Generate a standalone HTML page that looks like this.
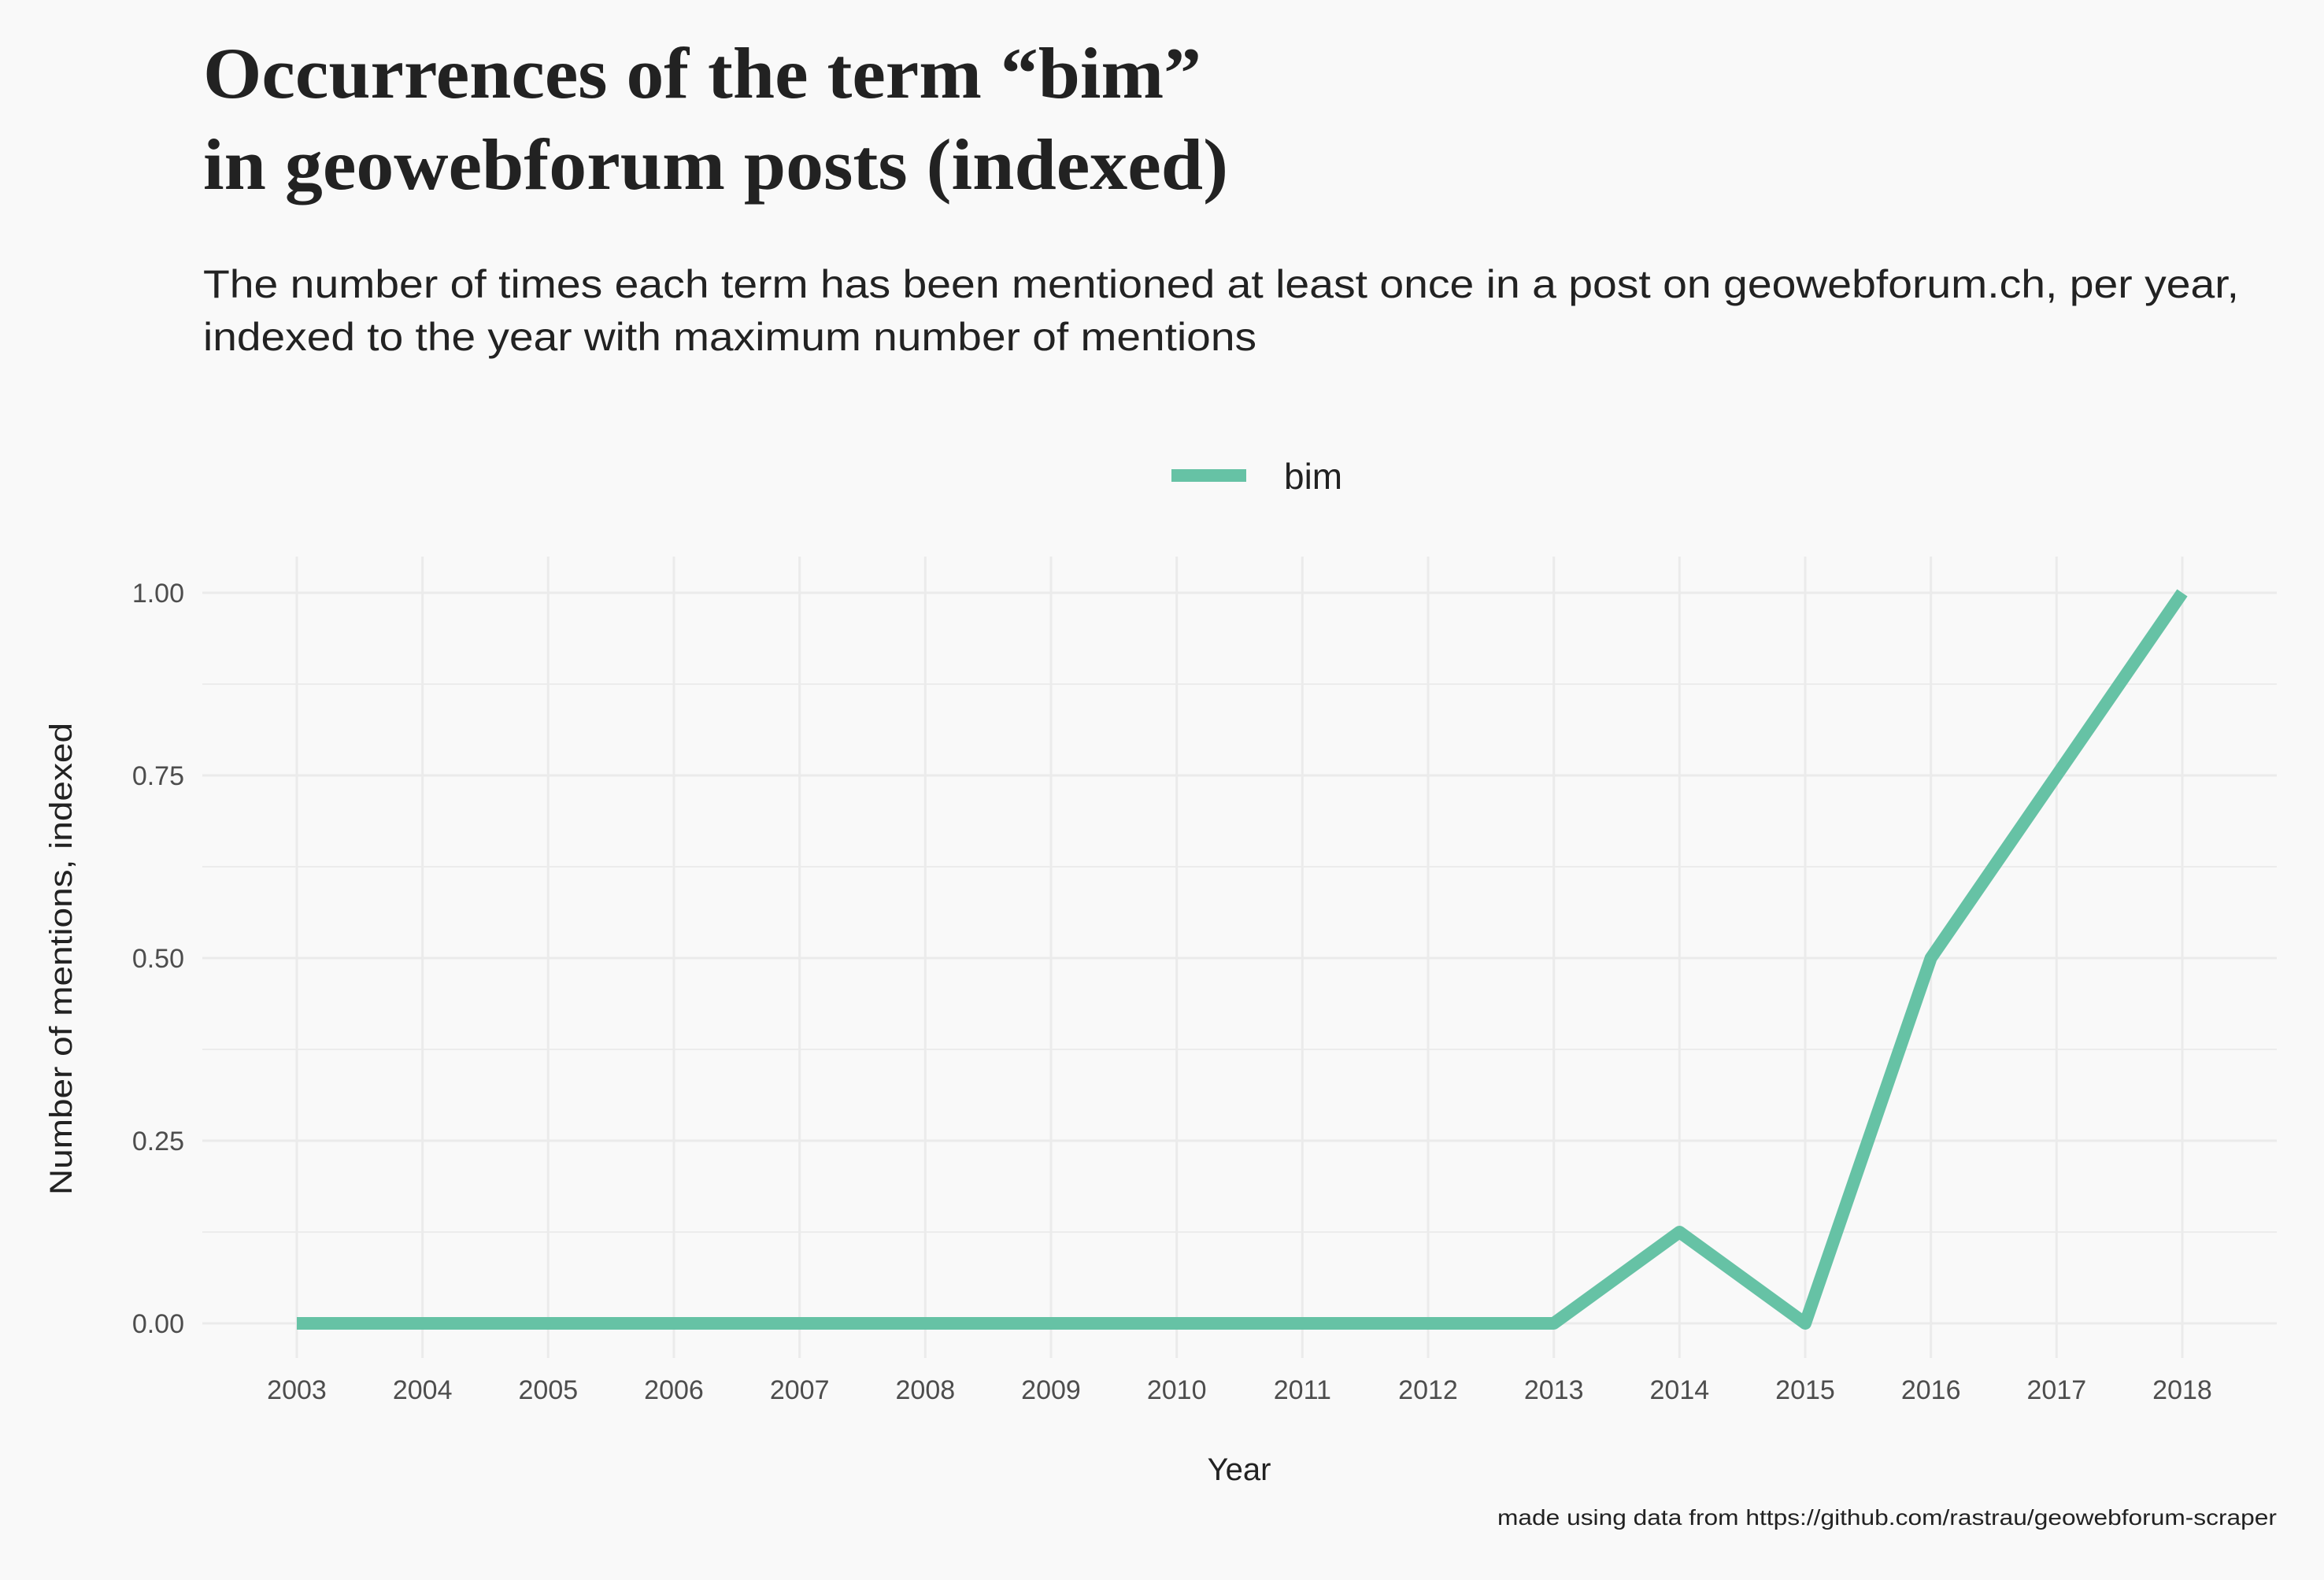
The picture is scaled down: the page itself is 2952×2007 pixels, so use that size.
<!DOCTYPE html>
<html><head><meta charset="utf-8"><style>
html,body{margin:0;padding:0;background:#f9f9f9;}
svg{display:block;}
</style></head><body>
<svg id="chart" width="2952" height="2007" viewBox="0 0 2952 2007" xmlns="http://www.w3.org/2000/svg">
<rect x="0" y="0" width="2952" height="2007" fill="#f9f9f9"/>
<text x="258" y="124" font-family="Liberation Serif, serif" font-weight="bold" font-size="92" fill="#222" textLength="1268" lengthAdjust="spacingAndGlyphs">Occurrences of the term “bim”</text>
<text x="258" y="240" font-family="Liberation Serif, serif" font-weight="bold" font-size="92" fill="#222" textLength="1302" lengthAdjust="spacingAndGlyphs">in geowebforum posts (indexed)</text>
<text x="258" y="378" font-family="Liberation Sans, sans-serif" font-size="50" fill="#222" textLength="2586" lengthAdjust="spacingAndGlyphs">The number of times each term has been mentioned at least once in a post on geowebforum.ch, per year,</text>
<text x="258" y="445" font-family="Liberation Sans, sans-serif" font-size="50" fill="#222" textLength="1338" lengthAdjust="spacingAndGlyphs">indexed to the year with maximum number of mentions</text>
<g>
<line x1="1488" y1="604" x2="1583" y2="604" stroke="#66c2a5" stroke-width="16"/>
<text x="1631" y="621" font-family="Liberation Sans, sans-serif" font-size="46" fill="#222">bim</text>
</g>
<g id="grid"></g>
<g id="axes"></g>
<g id="series"></g>
<text x="0" y="0" transform="translate(78,1218) rotate(-90)" text-anchor="middle" dominant-baseline="central" font-family="Liberation Sans, sans-serif" font-size="40" fill="#222" textLength="600" lengthAdjust="spacingAndGlyphs">Number of mentions, indexed</text>
<text x="1574" y="1880" text-anchor="middle" font-family="Liberation Sans, sans-serif" font-size="40" fill="#222">Year</text>
<text x="2892" y="1937" text-anchor="end" font-family="Liberation Sans, sans-serif" font-size="28" fill="#222" textLength="990" lengthAdjust="spacingAndGlyphs">made using data from https://github.com/rastrau/geowebforum-scraper</text>
</svg>
<script>
const years = [2003,2004,2005,2006,2007,2008,2009,2010,2011,2012,2013,2014,2015,2016,2017,2018];
const bimValues = [0,0,0,0,0,0,0,0,0,0,0,0.125,0,0.5,0.75,1];
const yTicks = [0,0.25,0.5,0.75,1];
const yTickLabels = ["0.00","0.25","0.50","0.75","1.00"];
const yMinor = [0.125,0.375,0.625,0.875];

const NS = "http://www.w3.org/2000/svg";
const X0 = 377, X1 = 2772, Y0 = 1681, Y1 = 753;
const PL = 257, PR = 2892, PT = 707, PB = 1725;
function xs(v){ return X0 + (v - years[0]) / (years[years.length-1] - years[0]) * (X1 - X0); }
function ys(v){ return Y0 + v * (Y1 - Y0); }
function mk(tag, attrs, parent){ const e = document.createElementNS(NS, tag); for (const k in attrs) e.setAttribute(k, attrs[k]); parent.appendChild(e); return e; }

const grid = document.getElementById('grid');
const axes = document.getElementById('axes');
const series = document.getElementById('series');

yMinor.forEach(v => {
  const l = mk('line', {x1: PL, x2: PR, y1: ys(v), y2: ys(v), stroke: '#ececec', 'stroke-width': 2}, grid);
  
  
});
yTicks.forEach((v, i) => {
  const l = mk('line', {x1: PL, x2: PR, y1: ys(v), y2: ys(v), stroke: '#ebebeb', 'stroke-width': 3}, grid);
  
  
  const t = mk('text', {x: 234, y: ys(v) + 12, 'text-anchor': 'end', 'font-family': 'Liberation Sans, sans-serif', 'font-size': 34, fill: '#4d4d4d'}, axes);
  t.textContent = yTickLabels[i];
  
  
});
years.forEach(yr => {
  const l = mk('line', {x1: xs(yr), x2: xs(yr), y1: PT, y2: PB, stroke: '#ebebeb', 'stroke-width': 3}, grid);
  
  
  const t = mk('text', {x: xs(yr), y: 1777, 'text-anchor': 'middle', 'font-family': 'Liberation Sans, sans-serif', 'font-size': 34, fill: '#4d4d4d'}, axes);
  t.textContent = String(yr);
  
  
});
const pts = years.map((yr, i) => xs(yr) + ',' + ys(bimValues[i])).join(' ');
const line = mk('polyline', {points: pts, fill: 'none', stroke: '#66c2a5', 'stroke-width': 16, 'stroke-linejoin': 'round'}, series);


</script>
</body></html>
